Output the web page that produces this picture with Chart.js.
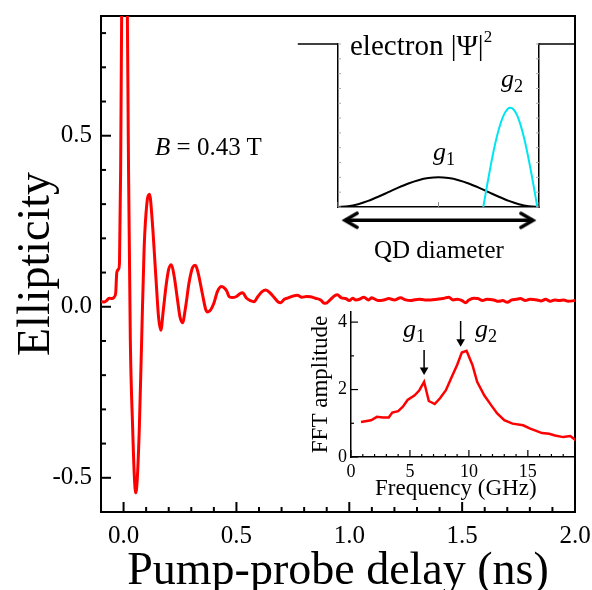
<!DOCTYPE html>
<html>
<head>
<meta charset="utf-8">
<script src="https://cdn.jsdelivr.net/npm/chart.js@4.4.1/dist/chart.umd.min.js"></script>
<style>
  body { margin: 0; background: #fff; }
  #wrap { position: relative; width: 592px; height: 590px; font-family: "Liberation Serif", "Times New Roman", serif; color: #000; }
  #wrap canvas { position: absolute; left: 0; top: 0; }
  .lbl { position: absolute; white-space: nowrap; line-height: 1; }
  .sub { font-size: 0.7em; position: relative; top: 0.3em; font-style: normal; }
</style>
</head>
<body>
<div id="wrap">
  <canvas id="main" width="592" height="590"></canvas>
  <canvas id="well" width="592" height="590"></canvas>
  <canvas id="fft" width="592" height="590"></canvas>

  <div class="lbl" style="left:155px;top:134px;font-size:25px"><i>B</i> = 0.43 T</div>
  <div class="lbl" style="left:350px;top:31px;font-size:29px">electron |Ψ|<span style="font-size:17px;position:relative;top:-13px">2</span></div>
  <div class="lbl" style="left:433px;top:139px;font-size:26px"><i>g</i><span class="sub">1</span></div>
  <div class="lbl" style="left:501px;top:66px;font-size:26px"><i>g</i><span class="sub">2</span></div>
  <div class="lbl" style="left:374px;top:237px;font-size:25px">QD diameter</div>
  <div class="lbl" style="left:403px;top:316px;font-size:26px"><i>g</i><span class="sub">1</span></div>
  <div class="lbl" style="left:475px;top:316px;font-size:26px"><i>g</i><span class="sub">2</span></div>
  <div class="lbl" style="left:375px;top:476px;font-size:23px">Frequency (GHz)</div>
</div>

<script>
// --- main trace: pump-probe delay (ns) vs ellipticity ---
const delayNs = [
  -0.100, -0.085, -0.075, -0.064, -0.052, -0.042, -0.035, -0.030, -0.022, -0.018,
  -0.013, -0.007, 0.004, 0.015, 0.022, 0.030, 0.040, 0.048, 0.054, 0.061,
  0.070, 0.080, 0.091, 0.103, 0.115, 0.126, 0.143, 0.155, 0.165, 0.176,
  0.188, 0.200, 0.212, 0.224, 0.239, 0.250, 0.261, 0.275, 0.290, 0.306,
  0.318, 0.330, 0.350, 0.364, 0.372, 0.385, 0.400, 0.416, 0.434, 0.446,
  0.458, 0.467, 0.480, 0.500, 0.515, 0.527, 0.545, 0.562, 0.578, 0.595,
  0.615, 0.630, 0.650, 0.670, 0.685, 0.696, 0.712, 0.726, 0.745, 0.770,
  0.790, 0.810, 0.829, 0.850, 0.873, 0.885, 0.895, 0.915, 0.935, 0.947,
  0.965, 0.984, 1.000, 1.015, 1.029, 1.045, 1.065, 1.085, 1.100, 1.109,
  1.130, 1.153, 1.175, 1.200, 1.227, 1.250, 1.270, 1.286, 1.310, 1.335,
  1.360, 1.390, 1.415, 1.441, 1.460, 1.480, 1.500, 1.515, 1.530, 1.550,
  1.570, 1.590, 1.610, 1.640, 1.660, 1.680, 1.700, 1.720, 1.740, 1.758,
  1.780, 1.800, 1.832, 1.850, 1.870, 1.890, 1.910, 1.930, 1.950, 1.970, 2.000
];
const ellipticity = [
  0.015, 0.014, 0.018, 0.025, 0.024, 0.028, 0.040, 0.100, 0.110, 0.130,
  0.400, 1.000, 1.400, 1.000, 0.400, -0.100, -0.350, -0.500, -0.544, -0.500,
  -0.350, -0.100, 0.170, 0.300, 0.329, 0.260, 0.088, -0.030, -0.069, -0.010,
  0.060, 0.110, 0.123, 0.090, 0.020, -0.030, -0.047, 0.000, 0.070, 0.115,
  0.121, 0.100, 0.035, -0.008, -0.015, -0.010, 0.010, 0.045, 0.059, 0.055,
  0.045, 0.030, 0.027, 0.030, 0.038, 0.041, 0.025, 0.018, 0.015, 0.030,
  0.045, 0.049, 0.040, 0.025, 0.014, 0.012, 0.022, 0.025, 0.030, 0.034,
  0.028, 0.030, 0.029, 0.025, 0.020, 0.012, 0.010, 0.020, 0.032, 0.035,
  0.026, 0.024, 0.018, 0.025, 0.020, 0.022, 0.028, 0.020, 0.026, 0.024,
  0.018, 0.020, 0.024, 0.020, 0.026, 0.020, 0.018, 0.020, 0.022, 0.020,
  0.020, 0.022, 0.024, 0.028, 0.020, 0.022, 0.018, 0.012, 0.020, 0.025,
  0.024, 0.018, 0.022, 0.020, 0.016, 0.018, 0.013, 0.020, 0.022, 0.024,
  0.018, 0.022, 0.020, 0.017, 0.022, 0.016, 0.020, 0.018, 0.020, 0.016, 0.018
];

// --- FFT inset ---
const freqGHz = [
  0.85, 1.7, 2.2, 2.7, 3.2, 3.5, 4.0, 4.4, 4.8, 5.4, 5.8, 6.2, 6.6, 7.1, 7.55, 8.05, 8.55, 9.0,
  9.4, 9.8, 10.3, 10.7, 11.3, 11.9, 12.4, 13.0, 13.7, 14.6, 15.2, 15.6, 16.2, 16.8, 17.3, 18.0, 18.6, 19.1
];
const fftAmp = [
  1.04, 1.09, 1.19, 1.17, 1.17, 1.32, 1.36, 1.49, 1.69, 1.83, 1.98, 2.23, 1.66, 1.57, 1.74, 1.98, 2.38, 2.73,
  3.10, 3.15, 2.73, 2.23, 1.83, 1.53, 1.29, 1.09, 0.99, 0.94, 0.84, 0.79, 0.71, 0.69, 0.64, 0.59, 0.62, 0.49
];
const fftArrowF = [6.2, 9.3];       // g1, g2 marks
const fftArrowTop = [3.17, 4.03];
const fftArrowHead = [2.58, 3.42];

// --- well inset: |Psi|^2 across the dot ---
const g1Pos = [-1.0, -0.9, -0.8, -0.7, -0.6, -0.5, -0.4, -0.3, -0.2, -0.1, 0.0,
               0.1, 0.2, 0.3, 0.4, 0.5, 0.6, 0.7, 0.8, 0.9, 1.0];
const g1Psi = [0.000, 0.005, 0.019, 0.041, 0.069, 0.100, 0.131, 0.159, 0.181, 0.195, 0.200,
               0.195, 0.181, 0.159, 0.131, 0.100, 0.069, 0.041, 0.019, 0.005, 0.000];
const g2Pos = [0.446, 0.48, 0.52, 0.56, 0.60, 0.64, 0.68, 0.71, 0.74, 0.78, 0.82, 0.86, 0.90, 0.94, 0.983];
const g2Psi = [0.000, 0.133, 0.281, 0.415, 0.525, 0.607, 0.656, 0.670, 0.663, 0.622, 0.546, 0.442, 0.312, 0.167, 0.000];
const wellTop = 1.1;
const wellLipLeft = [-1.4, -1.0];
const wellLipRight = [1.0, 1.36];
const qdArrowEnds = [-0.93, 0.94];
const qdArrowLevel = -0.09;

const SERIF = '"Liberation Serif", "Times New Roman", serif';
Chart.defaults.font.family = SERIF;
Chart.defaults.color = '#000';

function onStep(v, step) {
  const r = v / step;
  return Math.abs(r - Math.round(r)) < 1e-6;
}

const pts = (xs, ys) => xs.map((x, i) => ({ x, y: ys[i] }));

// fix a scale's box size and drop the label overhang padding
function fixSize(size) {
  return s => {
    if (s.isHorizontal()) s.height = size; else s.width = size;
    s.paddingTop = 0; s.paddingBottom = 0; s.paddingLeft = 0; s.paddingRight = 0;
  };
}

// ticks drawn inside the plot box
const innerTicks = {
  id: 'innerTicks',
  afterDraw(chart, args, opts) {
    const { ctx, chartArea: a } = chart;
    ctx.save();
    for (const ax of opts.axes || []) {
      const s = chart.scales[ax.id];
      ctx.strokeStyle = ax.color || '#000';
      ctx.lineWidth = ax.width || 1.5;
      for (const t of s.ticks) {
        if (!onStep(t.value, ax.minor)) continue;
        const len = onStep(t.value, ax.major) ? ax.majorLen : ax.minorLen;
        const p = s.getPixelForValue(t.value);
        ctx.beginPath();
        if (ax.edge === 'bottom') { ctx.moveTo(p, a.bottom); ctx.lineTo(p, a.bottom - len); }
        else if (ax.edge === 'left') { ctx.moveTo(a.left, p); ctx.lineTo(a.left + len, p); }
        else { ctx.moveTo(a.right, p); ctx.lineTo(a.right - len, p); }
        ctx.stroke();
      }
    }
    ctx.restore();
  }
};

const base = {
  responsive: false,
  animation: false,
  events: [],
  plugins: { legend: { display: false }, tooltip: { enabled: false } }
};

function frameAxis(position) {
  return {
    type: 'linear', position, min: 0, max: 1,
    ticks: { display: false },
    grid: { display: false, drawTicks: false },
    border: { color: '#000', width: 2 },
    afterFit: fixSize(0)
  };
}

// --- main chart ---
new Chart(document.getElementById('main'), {
  type: 'line',
  data: {
    datasets: [{
      data: pts(delayNs, ellipticity),
      borderColor: '#ff0000',
      borderWidth: 3,
      pointRadius: 0,
      cubicInterpolationMode: 'monotone'
    }]
  },
  options: {
    ...base,
    layout: { padding: { left: 0, right: 17, top: 16, bottom: 0 } },
    scales: {
      x: {
        type: 'linear', position: 'bottom', min: -0.1, max: 2.0,
        ticks: {
          stepSize: 0.1, autoSkip: false, maxRotation: 0, padding: 9, includeBounds: false,
          font: { size: 25 },
          callback: v => onStep(v, 0.5) ? v.toFixed(1) : ''
        },
        grid: { display: false, drawTicks: false },
        border: { color: '#000', width: 2 },
        title: {
          display: true, text: 'Pump-probe delay (ns)',
          font: { size: 46, lineHeight: 0.78 }, padding: { top: 0, bottom: 0 }
        },
        afterFit: fixSize(78)
      },
      y: {
        type: 'linear', position: 'left', min: -0.6, max: 0.85,
        ticks: {
          stepSize: 0.1, autoSkip: false, padding: 9, includeBounds: false,
          font: { size: 25 },
          callback: v => onStep(v, 0.5) ? v.toFixed(1) : ''
        },
        grid: { display: false, drawTicks: false },
        border: { color: '#000', width: 2 },
        title: {
          display: true, text: 'Ellipticity',
          font: { size: 46, lineHeight: 1 }, padding: { top: 14, bottom: 0 }
        },
        afterFit: fixSize(101)
      },
      xTop: frameAxis('top'),
      yRight: frameAxis('right')
    },
    plugins: {
      ...base.plugins,
      innerTicks: {
        axes: [
          { id: 'x', edge: 'bottom', minor: 0.1, major: 0.5, minorLen: 5, majorLen: 10, width: 2 },
          { id: 'y', edge: 'left', minor: 0.1, major: 0.5, minorLen: 5, majorLen: 10, width: 2 }
        ]
      }
    }
  },
  plugins: [innerTicks]
});

// --- well inset ---
function chevron() {
  const c = document.createElement('canvas');
  c.width = 28; c.height = 28;
  const g = c.getContext('2d');
  g.strokeStyle = '#000';
  g.lineWidth = 3.5;
  g.lineCap = 'round';
  g.beginPath();
  g.moveTo(2, 7); g.lineTo(14, 14); g.lineTo(2, 21);
  g.stroke();
  return c;
}
const head = chevron();

function wellAxis(position, min, max, step) {
  return {
    type: 'linear', position, min, max,
    ticks: { display: false, stepSize: step, includeBounds: false },
    grid: { display: false, drawTicks: false },
    border: { color: '#000', width: 1.5 },
    afterFit: fixSize(0)
  };
}

new Chart(document.getElementById('well'), {
  type: 'line',
  data: {
    datasets: [
      { data: pts(g2Pos, g2Psi), borderColor: '#00e5f2', borderWidth: 2, pointRadius: 0, cubicInterpolationMode: 'monotone' },
      { data: pts(g1Pos, g1Psi), borderColor: '#000', borderWidth: 2, pointRadius: 0, cubicInterpolationMode: 'monotone' },
      { data: wellLipLeft.map(x => ({ x, y: wellTop })), borderColor: '#000', borderWidth: 1.5, pointRadius: 0, clip: false },
      { data: wellLipRight.map(x => ({ x, y: wellTop })), borderColor: '#000', borderWidth: 1.5, pointRadius: 0, clip: false },
      {
        data: qdArrowEnds.map(x => ({ x, y: qdArrowLevel })),
        borderColor: '#000', borderWidth: 3.5, clip: false,
        pointStyle: head, pointRadius: 20, pointRotation: [180, 0]
      }
    ]
  },
  options: {
    ...base,
    layout: { padding: { left: 338, right: 53, top: 44, bottom: 383 } },
    scales: {
      x: wellAxis('bottom', -1, 1, 1),
      y: wellAxis('left', 0, wellTop, 0.1),
      y2: wellAxis('right', 0, wellTop, 0.1)
    },
    plugins: {
      ...base.plugins,
      innerTicks: {
        axes: [
          { id: 'x', edge: 'bottom', minor: 1, major: 1, minorLen: 5, majorLen: 5, color: '#888', width: 1 },
          { id: 'y', edge: 'left', minor: 0.1, major: 0.5, minorLen: 3, majorLen: 3, color: '#aaa', width: 1 },
          { id: 'y2', edge: 'right', minor: 0.1, major: 0.5, minorLen: 3, majorLen: 3, color: '#aaa', width: 1 }
        ]
      }
    }
  },
  plugins: [innerTicks]
});

// --- FFT inset ---
const arrowSets = fftArrowF.map((f, i) => ({
  data: [{ x: f, y: fftArrowTop[i] }, { x: f, y: fftArrowHead[i] }],
  borderColor: '#000', borderWidth: 1.5, clip: false,
  pointStyle: 'triangle', pointRadius: [0, 5], pointRotation: 180,
  pointBackgroundColor: '#000', pointBorderColor: '#000', pointBorderWidth: 0
}));

new Chart(document.getElementById('fft'), {
  type: 'line',
  data: {
    datasets: [
      ...arrowSets,
      { data: pts(freqGHz, fftAmp), borderColor: '#ff0000', borderWidth: 2.5, pointRadius: 0, tension: 0 }
    ]
  },
  options: {
    ...base,
    layout: { padding: { left: 301, right: 17, top: 312, bottom: 93 } },
    scales: {
      x: {
        type: 'linear', position: 'bottom', min: 0, max: 19,
        ticks: {
          stepSize: 1, autoSkip: false, maxRotation: 0, padding: 4, includeBounds: false,
          font: { size: 18 },
          callback: v => onStep(v, 5) ? String(v) : ''
        },
        grid: { display: false, drawTicks: false },
        border: { color: '#000', width: 1.5 },
        afterFit: fixSize(40)
      },
      y: {
        type: 'linear', position: 'left', min: 0, max: 4.3,
        ticks: {
          stepSize: 1, autoSkip: false, padding: 4, includeBounds: false,
          font: { size: 18 },
          callback: v => onStep(v, 2) ? String(v) : ''
        },
        grid: { display: false, drawTicks: false },
        border: { color: '#000', width: 1.5 },
        title: {
          display: true, text: 'FFT amplitude',
          font: { size: 23, lineHeight: 1 }, padding: { top: 8, bottom: 0 }
        },
        afterFit: fixSize(50)
      }
    },
    plugins: {
      ...base.plugins,
      innerTicks: {
        axes: [
          { id: 'x', edge: 'bottom', minor: 1, major: 5, minorLen: 3, majorLen: 7, width: 1.2 },
          { id: 'y', edge: 'left', minor: 1, major: 2, minorLen: 3, majorLen: 7, width: 1.2 }
        ]
      }
    }
  },
  plugins: [innerTicks]
});
</script>
</body>
</html>
